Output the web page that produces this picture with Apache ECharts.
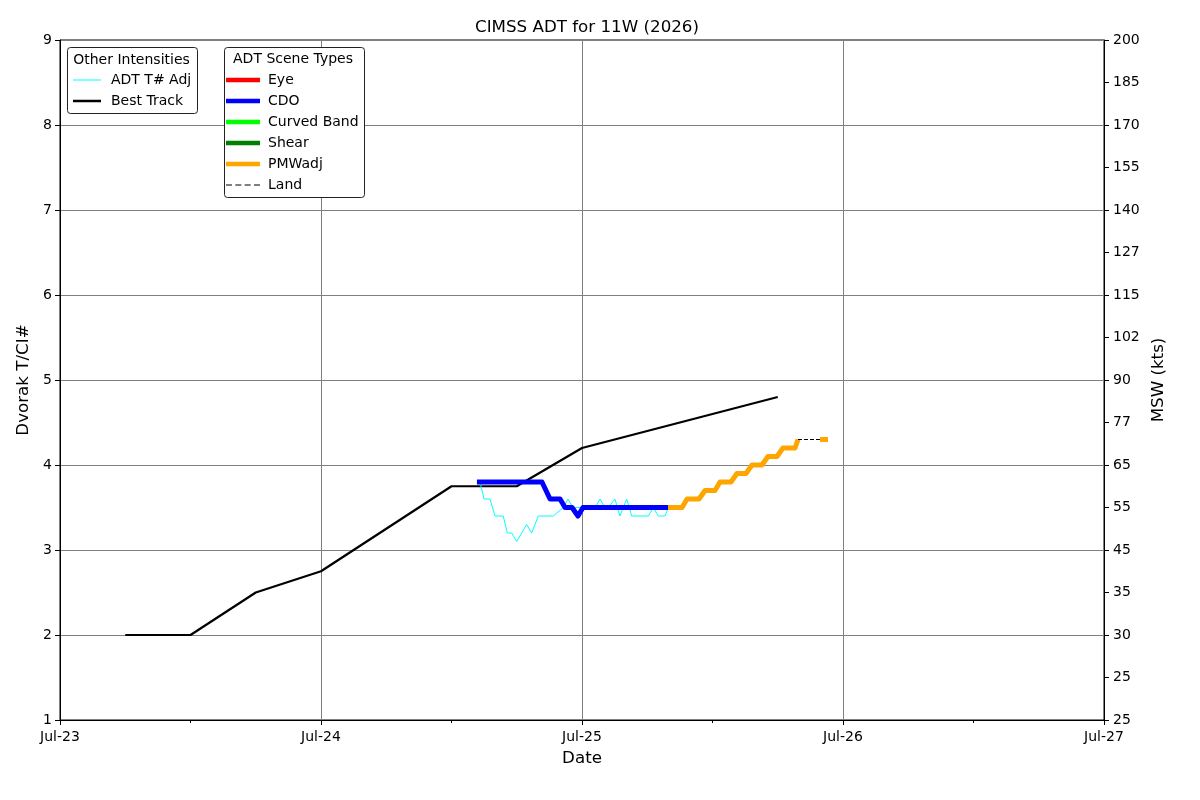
<!DOCTYPE html>
<html>
<head>
<meta charset="utf-8">
<script src="https://cdn.jsdelivr.net/npm/echarts@6/dist/echarts.min.js"></script>
<style>
html,body{margin:0;padding:0;background:#fff;}
#chart{width:1200px;height:800px;}
</style>
</head>
<body>
<div id="chart"></div>
<script>
// Hours since 2026-07-23 00:00 UTC
var dayLabels = ['Jul-23', 'Jul-24', 'Jul-25', 'Jul-26', 'Jul-27'];
var mswLabels = ['25','25','30','35','45','55','65','77','90','102','115','127','140','155','170','185','200'];

var bestTrackHours = [6, 12, 18, 24, 36, 42, 48, 66];
var bestTrackT     = [2.0, 2.0, 2.5, 2.75, 3.75, 3.75, 4.2, 4.8];

var adtHours = [38.34, 38.62, 38.99, 39.54, 40.00, 40.76, 41.13, 41.54, 42.00, 42.91, 43.37, 43.98,
                45.36, 46.28, 46.71, 47.17, 49.20, 49.66, 50.11, 50.42, 51.03, 51.49, 52.11, 52.57,
                54.10, 54.56, 55.02, 55.63, 55.94];
var adtT     = [3.8, 3.8, 3.6, 3.6, 3.4, 3.4, 3.2, 3.2, 3.1, 3.3, 3.2, 3.4,
                3.4, 3.5, 3.6, 3.5, 3.5, 3.6, 3.5, 3.5, 3.6, 3.4, 3.6, 3.4,
                3.4, 3.5, 3.4, 3.4, 3.5];

var cdoHours = [38.34, 44.32, 45.06, 45.98, 46.44, 47.08, 47.63, 48.09, 55.91];
var cdoT     = [3.8, 3.8, 3.6, 3.6, 3.5, 3.5, 3.4, 3.5, 3.5];

var pmwHours = [55.91, 57.20, 57.66, 58.76, 59.31, 60.23, 60.69, 61.70, 62.25, 63.08, 63.63, 64.55,
                65.10, 65.93, 66.48, 67.59, 67.86, null, 69.89, 70.62];
var pmwT     = [3.5, 3.5, 3.6, 3.6, 3.7, 3.7, 3.8, 3.8, 3.9, 3.9, 4.0, 4.0,
                4.1, 4.1, 4.2, 4.2, 4.3, null, 4.3, 4.3];

var landHours = [67.86, 69.89];
var landT     = [4.3, 4.3];

function pairs(xs, ys) {
  return xs.map(function (x, i) {
    return (x === null || ys[i] === null) ? ['-', '-'] : [x, ys[i]];
  });
}

var FONT = 'DejaVu Sans';
var SMALL = 14;
var BIG = 16.7;
var ICON_THIN = 'path://M0,0H28V1H0Z';
var ICON_MED = 'path://M0,0H28V2.5H0Z';
var ICON_THICK = 'path://M0,0H34V4.5H0Z';
var ICON_DASH = 'path://M0,0H5.5V1H0Z M8.5,0H14V1H8.5Z M17,0H22.5V1H17Z M25.5,0H31V1H25.5Z';

var chart = echarts.init(document.getElementById('chart'), null, {renderer: 'canvas'});

var option = {
  backgroundColor: '#ffffff',
  animation: false,
  textStyle: {fontFamily: FONT, color: '#000'},
  title: {
    text: 'CIMSS ADT for 11W (2026)',
    left: 582, top: 14, textAlign: 'center',
    textStyle: {fontFamily: FONT, fontSize: BIG, fontWeight: 'normal', color: '#000'}
  },
  grid: {
    left: 60, right: 96, top: 40, bottom: 80,
    show: true, borderColor: '#000', borderWidth: 1, backgroundColor: 'transparent'
  },
  xAxis: {
    type: 'value', min: 0, max: 96, interval: 24,
    name: 'Date', nameLocation: 'middle', nameGap: 30,
    nameTextStyle: {fontFamily: FONT, fontSize: BIG, color: '#000'},
    axisLine: {show: true, lineStyle: {color: '#000', width: 1}},
    axisTick: {show: true, length: 5, lineStyle: {color: '#000'}},
    minorTick: {show: true, splitNumber: 2, length: 3, lineStyle: {color: '#000'}},
    axisLabel: {fontFamily: FONT, fontSize: SMALL, color: '#000', margin: 10,
      formatter: function (v) { return dayLabels[Math.round(v / 24)]; }},
    splitLine: {show: true, lineStyle: {color: '#808080', width: 1}}
  },
  yAxis: [{
    type: 'value', min: 1, max: 9, interval: 1, position: 'left',
    name: 'Dvorak T/CI#', nameLocation: 'middle', nameGap: 24, nameRotate: 90,
    nameTextStyle: {fontFamily: FONT, fontSize: BIG, color: '#000'},
    axisLine: {show: true, lineStyle: {color: '#000', width: 1}},
    axisTick: {show: true, length: 5, lineStyle: {color: '#000'}},
    axisLabel: {fontFamily: FONT, fontSize: SMALL, color: '#000', margin: 8},
    splitLine: {show: true, lineStyle: {color: '#808080', width: 1}}
  }, {
    type: 'value', min: 1, max: 9, interval: 0.5, position: 'right',
    name: 'MSW (kts)', nameLocation: 'middle', nameGap: 39, nameRotate: 90,
    nameTextStyle: {fontFamily: FONT, fontSize: BIG, color: '#000'},
    axisLine: {show: true, lineStyle: {color: '#000', width: 1}},
    axisTick: {show: true, length: 5, lineStyle: {color: '#000'}},
    axisLabel: {fontFamily: FONT, fontSize: SMALL, color: '#000', margin: 9,
      formatter: function (v) { return mswLabels[Math.round((v - 1) * 2)]; }},
    splitLine: {show: false}
  }],
  legend: [{
    orient: 'vertical', left: 73, top: 73, padding: 0, itemGap: 7,
    itemWidth: 28, itemHeight: 14, z: 100,
    textStyle: {fontFamily: FONT, fontSize: SMALL, color: '#000', padding: [0, 0, 0, 5]},
    data: [{name: 'ADT T# Adj', icon: ICON_THIN}, {name: 'Best Track', icon: ICON_MED}]
  }, {
    orient: 'vertical', left: 226, top: 73, padding: 0, itemGap: 7,
    itemWidth: 34, itemHeight: 14, z: 100,
    textStyle: {fontFamily: FONT, fontSize: SMALL, color: '#000', padding: [0, 0, 0, 3]},
    data: [{name: 'Eye', icon: ICON_THICK}, {name: 'CDO', icon: ICON_THICK},
           {name: 'Curved Band', icon: ICON_THICK}, {name: 'Shear', icon: ICON_THICK},
           {name: 'PMWadj', icon: ICON_THICK}, {name: 'Land', icon: ICON_DASH}]
  }],
  graphic: [
    {type: 'rect', z: 50, shape: {x: 67.5, y: 47.5, width: 130, height: 66, r: 3},
     style: {fill: '#fff', stroke: '#222', lineWidth: 1}},
    {type: 'text', z: 51, x: 131.5, y: 60,
     style: {text: 'Other Intensities', fontFamily: FONT, fontSize: SMALL, fill: '#000', align: 'center', verticalAlign: 'middle'}},
    {type: 'rect', z: 50, shape: {x: 224.5, y: 47.5, width: 140, height: 150, r: 3},
     style: {fill: '#fff', stroke: '#222', lineWidth: 1}},
    {type: 'text', z: 51, x: 293, y: 59,
     style: {text: 'ADT Scene Types', fontFamily: FONT, fontSize: SMALL, fill: '#000', align: 'center', verticalAlign: 'middle'}}
  ],
  series: [{
    name: 'Best Track', type: 'line', symbol: 'none', z: 2,
    lineStyle: {color: '#000', width: 2.2}, itemStyle: {color: '#000'},
    data: pairs(bestTrackHours, bestTrackT)
  }, {
    name: 'ADT T# Adj', type: 'line', symbol: 'none', z: 3,
    lineStyle: {color: '#00ffff', width: 1}, itemStyle: {color: '#00ffff'},
    data: pairs(adtHours, adtT)
  }, {
    name: 'Eye', type: 'line', symbol: 'none', z: 4,
    lineStyle: {color: '#ff0000', width: 4}, itemStyle: {color: '#ff0000'}, data: []
  }, {
    name: 'CDO', type: 'line', symbol: 'none', z: 4,
    lineStyle: {color: '#0000ff', width: 5, join: 'round'}, itemStyle: {color: '#0000ff'},
    data: pairs(cdoHours, cdoT)
  }, {
    name: 'Curved Band', type: 'line', symbol: 'none', z: 4,
    lineStyle: {color: '#00ff00', width: 4}, itemStyle: {color: '#00ff00'}, data: []
  }, {
    name: 'Shear', type: 'line', symbol: 'none', z: 4,
    lineStyle: {color: '#008000', width: 4}, itemStyle: {color: '#008000'}, data: []
  }, {
    name: 'PMWadj', type: 'line', symbol: 'none', z: 4, connectNulls: false,
    lineStyle: {color: '#ffa500', width: 5, join: 'round'}, itemStyle: {color: '#ffa500'},
    data: pairs(pmwHours, pmwT)
  }, {
    name: 'Land', type: 'line', symbol: 'none', z: 5,
    lineStyle: {color: '#000', width: 1, type: [4, 2]}, itemStyle: {color: '#000'},
    data: pairs(landHours, landT)
  }]
};
chart.setOption(option);
</script>
</body>
</html>
